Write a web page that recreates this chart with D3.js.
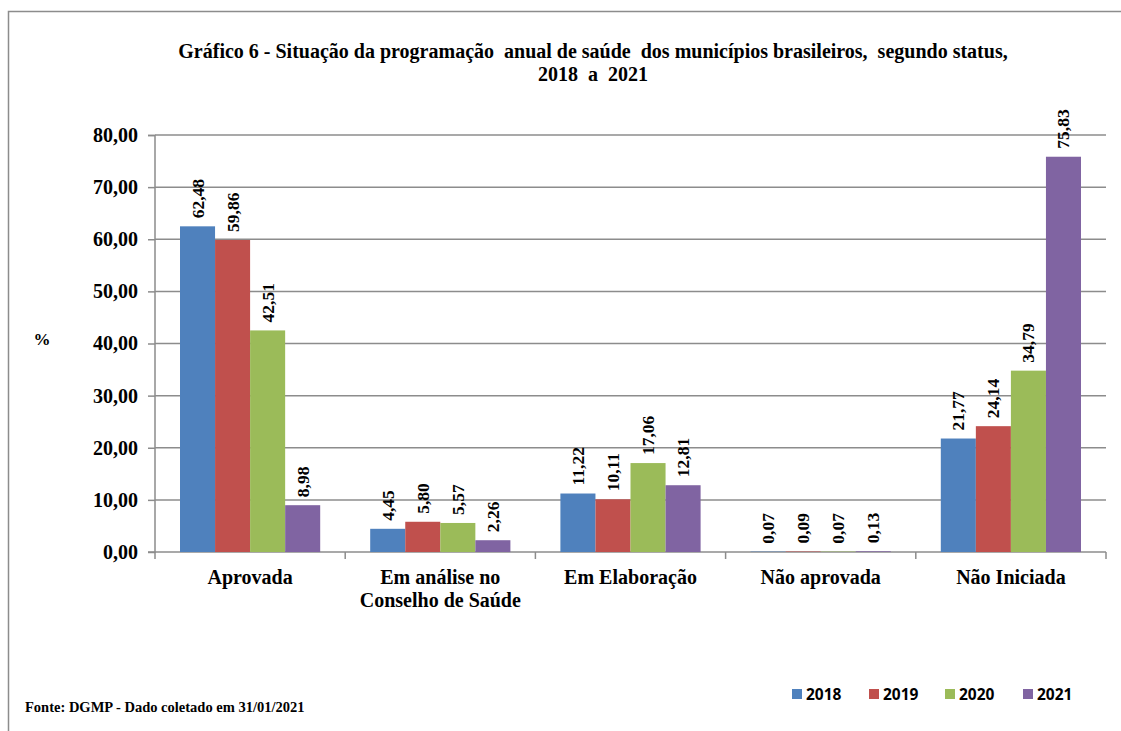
<!DOCTYPE html>
<html>
  <head>
    <meta charset="utf-8">
    <title>Gráfico 6</title>
    <script src="https://cdnjs.cloudflare.com/ajax/libs/d3/7.8.5/d3.min.js"></script>
    <style>
      body { margin: 0; background: #fff; }
      text { font-family: "Liberation Serif", "Times New Roman", serif; font-weight: bold; fill: #000; }
    </style>
  </head>
  <body>
    <script type="text/javascript">

    // data
    let categories = [["Aprovada"], ["Em análise no", "Conselho de Saúde"], ["Em Elaboração"], ["Não aprovada"], ["Não Iniciada"]]
    let years = ["2018", "2019", "2020", "2021"]
    let v2018 = [62.48, 4.45, 11.22, 0.07, 21.77]
    let v2019 = [59.86, 5.80, 10.11, 0.09, 24.14]
    let v2020 = [42.51, 5.57, 17.06, 0.07, 34.79]
    let v2021 = [8.98, 2.26, 12.81, 0.13, 75.83]
    let yTicks = [0, 10, 20, 30, 40, 50, 60, 70, 80]
    let colors = ["#4F81BD", "#C0504D", "#9BBB59", "#8064A2"]

    let series = [v2018, v2019, v2020, v2021]

    let outerWidth = 1121;
    let outerHeight = 731;
    let margin = { left: 155, top: 135, right: 15, bottom: 179 }

    let svg = d3.select("body").append("svg")
      .attr("width", outerWidth)
      .attr("height", outerHeight)

    // outer frame
    svg.append("path")
      .attr("d", "M8.5," + (outerHeight + 5) + "V11.5H" + (outerWidth + 5))
      .attr("fill", "none")
      .attr("stroke", "#8c8c8c")
      .attr("stroke-width", 1.5)

    svg.append("text")
      .attr("x", 593).attr("y", 58)
      .attr("text-anchor", "middle")
      .attr("xml:space", "preserve")
      .style("font-size", "20px")
      .text("Gráfico 6 - Situação da programação  anual de saúde  dos municípios brasileiros,  segundo status,")
    svg.append("text")
      .attr("x", 593).attr("y", 81)
      .attr("text-anchor", "middle")
      .attr("xml:space", "preserve")
      .style("font-size", "20px")
      .text("2018  a  2021")

    let g = svg.append("g")
      .attr("transform", "translate(" + margin.left + "," + margin.top + ")");

    let innerWidth = 1106 - margin.left;
    let innerHeight = 552 - margin.top;

    let xScale = d3.scaleBand().domain(d3.range(categories.length)).range([0, innerWidth]);
    let xInner = d3.scaleBand().domain(d3.range(years.length)).range([25, xScale.bandwidth() - 25]);
    let yScale = d3.scaleLinear().domain([0, 80]).range([innerHeight, 0]);

    // gridlines
    g.selectAll(".grid").data(yTicks.slice(1)).enter().append("line")
      .attr("x1", 0).attr("x2", innerWidth)
      .attr("y1", d => yScale(d)).attr("y2", d => yScale(d))
      .attr("stroke", "#8c8c8c").attr("stroke-width", 1.5)

    // y axis
    let yAxis = d3.axisLeft(yScale).tickValues(yTicks).tickSize(7).tickPadding(10)
      .tickFormat(d => d3.format(".2f")(d).replace(".", ","))
    let yg = g.append("g").call(yAxis)
    yg.select(".domain").attr("stroke", "#8c8c8c").attr("stroke-width", 1.5).attr("d", "M-7,0.5H0V" + innerHeight + "H-7")
    yg.selectAll(".tick line").attr("stroke", "#8c8c8c").attr("stroke-width", 1.5)
    yg.selectAll(".tick text").style("font-size", "20px").attr("font-family", null).attr("fill", "#000")

    // x axis
    let xAxisG = g.append("g").attr("transform", "translate(0," + innerHeight + ")")
    xAxisG.append("line").attr("x1", 0).attr("x2", innerWidth)
      .attr("stroke", "#8c8c8c").attr("stroke-width", 1.5)
    xAxisG.selectAll(".xt").data(d3.range(categories.length + 1)).enter().append("line")
      .attr("x1", d => d * xScale.bandwidth()).attr("x2", d => d * xScale.bandwidth())
      .attr("y1", 0).attr("y2", 7)
      .attr("stroke", "#8c8c8c").attr("stroke-width", 1.5)

    let catLabels = xAxisG.selectAll(".cat").data(categories).enter().append("text")
      .attr("text-anchor", "middle")
      .style("font-size", "20px")
      .attr("transform", (d, i) => "translate(" + (xScale(i) + xScale.bandwidth() / 2) + ",32)")
    catLabels.selectAll("tspan").data(d => d).enter().append("tspan")
      .attr("x", 0).attr("dy", (d, i) => i === 0 ? 0 : 23)
      .text(d => d)

    // bars
    let flat = []
    categories.forEach((c, i) => {
      series.forEach((s, j) => flat.push({ cat: i, yr: j, value: s[i] }))
    })

    g.selectAll(".bar").data(flat).enter().append("rect")
      .attr("x", d => xScale(d.cat) + xInner(d.yr))
      .attr("width", xInner.bandwidth())
      .attr("y", d => yScale(d.value))
      .attr("height", d => innerHeight - yScale(d.value))
      .attr("fill", d => colors[d.yr])

    g.selectAll(".lbl").data(flat).enter().append("text")
      .attr("transform", d => "translate(" + (xScale(d.cat) + xInner(d.yr) + xInner.bandwidth() / 2 + 6) + "," + (yScale(d.value) - 8) + ") rotate(-90)")
      .style("font-size", "17.5px")
      .text(d => d3.format(".2f")(d.value).replace(".", ","))

    // y label
    svg.append("text").attr("x", 42).attr("y", 345).attr("text-anchor", "middle")
      .style("font-size", "17px").text("%")

    // source
    svg.append("text").attr("x", 25).attr("y", 712)
      .style("font-size", "14.5px").text("Fonte: DGMP - Dado coletado em 31/01/2021")

    // legend
    let legendX = [792, 869, 945, 1023]
    let leg = svg.selectAll(".leg").data(years).enter().append("g")
      .attr("transform", (d, i) => "translate(" + legendX[i] + ",689)")
    leg.append("rect").attr("width", 10).attr("height", 10).attr("fill", (d, i) => colors[i])
    leg.append("text").attr("x", 14).attr("y", 11)
      .style("font-family", "'Open Sans', 'DejaVu Sans', sans-serif")
      .style("font-size", "15.5px")
      .text(d => d)

    </script>
  </body>
</html>
